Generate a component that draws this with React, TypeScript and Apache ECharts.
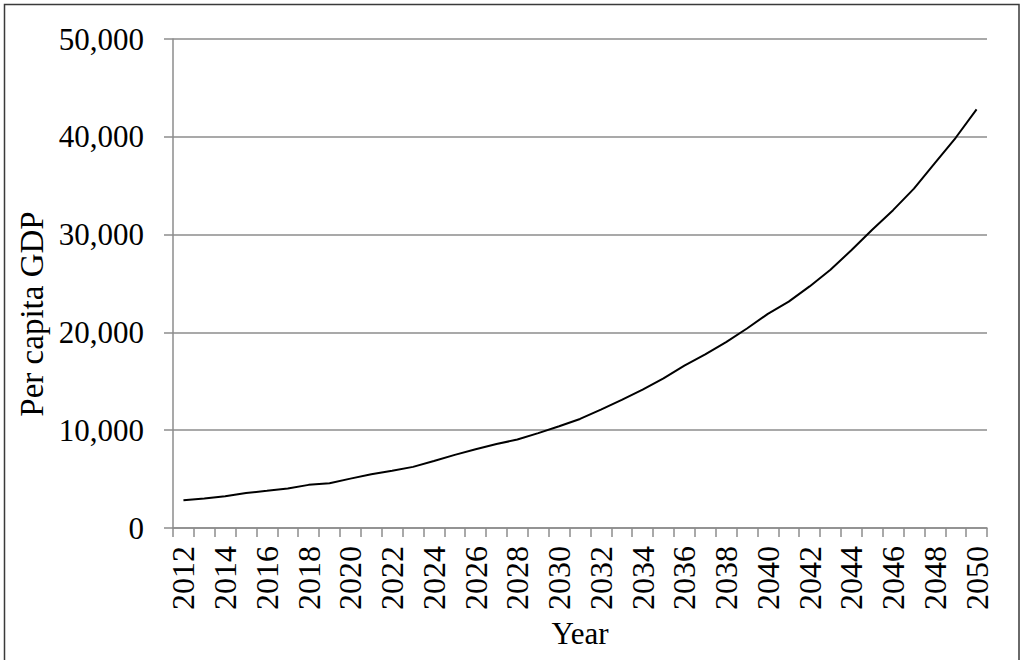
import React, { useEffect, useRef } from "react";
import * as echarts from "echarts";

const years: string[] = [
  "2012", "2013", "2014", "2015", "2016", "2017", "2018", "2019", "2020", "2021",
  "2022", "2023", "2024", "2025", "2026", "2027", "2028", "2029", "2030", "2031",
  "2032", "2033", "2034", "2035", "2036", "2037", "2038", "2039", "2040", "2041",
  "2042", "2043", "2044", "2045", "2046", "2047", "2048", "2049", "2050",
];

const gdpPerCapita: number[] = [
  2830, 3020, 3250, 3580, 3800, 4030, 4410, 4570, 5050, 5500,
  5850, 6250, 6850, 7480, 8050, 8580, 9050, 9700, 10400, 11150,
  12100, 13100, 14150, 15300, 16600, 17750, 19000, 20400, 21900, 23150,
  24700, 26400, 28400, 30500, 32500, 34700, 37300, 39900, 42800,
];

const yTicks = { min: 0, max: 50000, interval: 10000 };
const xTitle = "Year";
const yTitle = "Per capita GDP";

const FONT = '"Liberation Serif", "Times New Roman", serif';
const GRAY = "#8c8c8c";

export default function App() {
  const ref = useRef<HTMLDivElement>(null);

  useEffect(() => {
    if (!ref.current) return;
    const chart = echarts.init(ref.current, null, { renderer: "svg" });
    chart.setOption({
      animation: false,
      backgroundColor: "#ffffff",
      grid: { left: 173, right: 37, top: 39, bottom: 132, containLabel: false },
      graphic: [
        {
          type: "rect",
          shape: { x: 4.5, y: 4.5, width: 1014.5, height: 670 },
          style: { fill: "none", stroke: "#3a3a3a", lineWidth: 1.5 },
          silent: true,
        },
        {
          type: "text",
          x: 32,
          y: 314,
          rotation: Math.PI / 2,
          style: {
            text: yTitle,
            font: `33px ${FONT}`,
            fill: "#000",
            textAlign: "center",
            textVerticalAlign: "middle",
          },
        },
      ],
      xAxis: {
        type: "category",
        data: years,
        boundaryGap: true,
        name: xTitle,
        nameLocation: "middle",
        nameGap: 88,
        nameTextStyle: { fontFamily: FONT, fontSize: 31, color: "#000" },
        axisLine: { show: true, lineStyle: { color: GRAY, width: 1.5 } },
        axisTick: { show: true, interval: 0, length: 9, lineStyle: { color: GRAY, width: 1.5 } },
        axisLabel: {
          interval: 1,
          rotate: 90,
          margin: 18,
          fontFamily: FONT,
          fontSize: 32,
          color: "#000",
        },
        splitLine: { show: false },
      },
      yAxis: {
        type: "value",
        min: yTicks.min,
        max: yTicks.max,
        interval: yTicks.interval,
        axisLine: { show: true, lineStyle: { color: GRAY, width: 1.5 } },
        axisTick: { show: true, length: 9, lineStyle: { color: GRAY, width: 1.5 } },
        axisLabel: {
          margin: 29,
          fontFamily: FONT,
          fontSize: 31,
          color: "#000",
          formatter: (v: number) => v.toLocaleString("en-US"),
        },
        splitLine: { show: true, lineStyle: { color: GRAY, width: 1.5 } },
      },
      series: [
        {
          type: "line",
          data: gdpPerCapita,
          showSymbol: false,
          symbol: "none",
          smooth: false,
          lineStyle: { color: "#000", width: 2 },
        },
      ],
    });
    return () => chart.dispose();
  }, []);

  return (
    <div
      ref={ref}
      style={{ position: "fixed", left: 0, top: 0, width: 1024, height: 660 }}
    />
  );
}
